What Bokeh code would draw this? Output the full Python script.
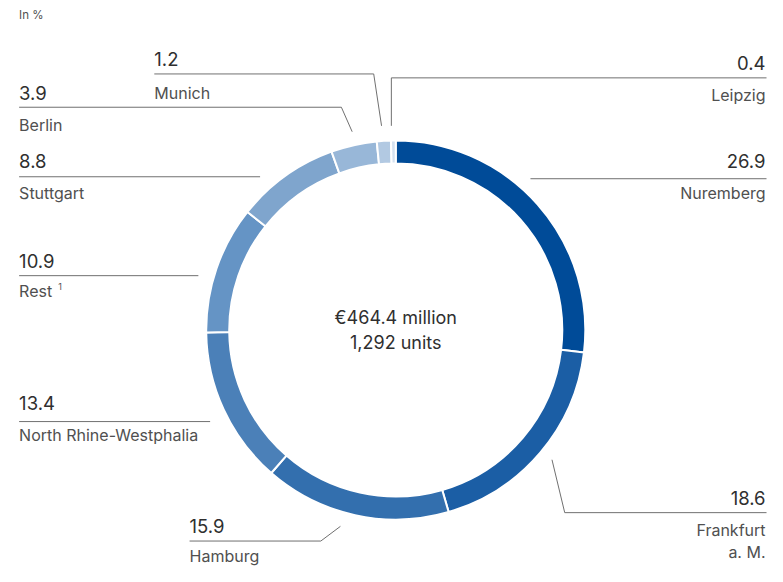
from bokeh.plotting import figure
from bokeh.models import Range1d, ColumnDataSource
from bokeh.core.properties import value
from bokeh.embed import file_html
from bokeh.resources import INLINE
import numpy as np

# ---- data ----
regions = ["Nuremberg", "Frankfurt a. M.", "Hamburg", "North Rhine-Westphalia", "Rest",
           "Stuttgart", "Berlin", "Munich", "Leipzig"]
shares = [26.9, 18.6, 15.9, 13.4, 10.9, 8.8, 3.9, 1.2, 0.4]
value_labels = ["26.9", "18.6", "15.9", "13.4", "10.9", "8.8", "3.9", "1.2", "0.4"]
unit_label = "In %"
center_lines = ["€464.4 million", "1,292 units"]

# ---- styles ----
colors = ["#004B98", "#1B5EA5", "#336FAE", "#4B80B8", "#6594C5",
          "#7FA5CD", "#98B7D8", "#B2C9E2", "#D5E1EF"]
FONT = "Inter"
NUM_COLOR = "#2f2f2f"
LBL_COLOR = "#505050"
LINE_COLOR = "#707070"

H = 582  # reference height, used to flip y (layout given top-down)
def Y(v):
    return H - v

p = figure(width=767, height=566, output_backend="svg", toolbar_location=None,
           x_range=Range1d(0, 783), y_range=Range1d(2, 580), min_border=0)
p.axis.visible = False
p.grid.visible = False
p.outline_line_color = None
p.background_fill_color = "white"
p.border_fill_color = "white"

# ---- donut ----
cx, cy = 403.5, Y(338.5)
total = sum(shares)
cum = np.concatenate([[0], np.cumsum(shares)])
start = np.pi / 2 - 2 * np.pi * cum[:-1] / total
end = np.pi / 2 - 2 * np.pi * cum[1:] / total
src = ColumnDataSource(dict(start=start, end=end, color=colors))
p.annular_wedge(x=cx, y=cy, inner_radius=170, outer_radius=193.5,
                start_angle="start", end_angle="end", direction="clock",
                fill_color="color", line_color="white", line_width=2, source=src)

# ---- leader lines (layout, top-down reference coordinates) ----
leaders = {
    "Nuremberg": [(541, 184), (782, 184)],
    "Frankfurt a. M.": [(563, 471), (576, 525), (782, 525)],
    "Hamburg": [(347, 539), (327, 554), (193, 554)],
    "North Rhine-Westphalia": [(19, 432), (214, 432)],
    "Rest": [(19, 283), (202, 283)],
    "Stuttgart": [(19, 182), (265, 182)],
    "Berlin": [(19, 111), (348, 111), (359, 136)],
    "Munich": [(157, 77), (381, 77), (389, 130)],
    "Leipzig": [(399, 130), (399, 81), (782, 81)],
}
xs = [[pt[0] for pt in leaders[r]] for r in regions]
ys = [[Y(pt[1]) for pt in leaders[r]] for r in regions]
p.multi_line(xs=xs, ys=ys, line_color=LINE_COLOR, line_width=1)

# label anchors: x, number y, name y, alignment
anchors = {
    "Nuremberg": (781, 166, 199, "right"),
    "Frankfurt a. M.": (781, 510, 543, "right"),
    "Hamburg": (193, 539, 569, "left"),
    "North Rhine-Westphalia": (19, 413, 446, "left"),
    "Rest": (19, 268, 299, "left"),
    "Stuttgart": (19, 166, 199, "left"),
    "Berlin": (19, 96, 129, "left"),
    "Munich": (157, 62, 96, "left"),
    "Leipzig": (781, 66, 98, "right"),
}

for r, v in zip(regions, value_labels):
    ax, ny, ly, al = anchors[r]
    p.text(x=[ax], y=[Y(ny)], text=[v], text_font=value(FONT), text_font_size="18.5px",
           text_color=NUM_COLOR, text_align=al, text_baseline="middle")
    if r == "Frankfurt a. M.":
        parts = ["Frankfurt", "a. M."]
    else:
        parts = [r]
    for i, t in enumerate(parts):
        p.text(x=[ax], y=[Y(ly + 22 * i)], text=[t], text_font=value(FONT),
               text_font_size="16px", text_color=LBL_COLOR, text_align=al,
               text_baseline="middle")

# footnote marker for Rest
p.text(x=[59], y=[Y(294)], text=["1"], text_font=value(FONT), text_font_size="9px",
       text_color=LBL_COLOR, text_align="left", text_baseline="middle")

# unit label
p.text(x=[19], y=[Y(17)], text=[unit_label], text_font=value(FONT), text_font_size="11.5px",
       text_color=LBL_COLOR, text_align="left", text_baseline="middle")

# center text
for i, t in enumerate(center_lines):
    p.text(x=[cx], y=[Y(326 + 25 * i)], text=[t], text_font=value(FONT),
           text_font_size="18px", text_color=NUM_COLOR, text_align="center",
           text_baseline="middle")

open("out.html", "w").write(file_html(p, INLINE))
